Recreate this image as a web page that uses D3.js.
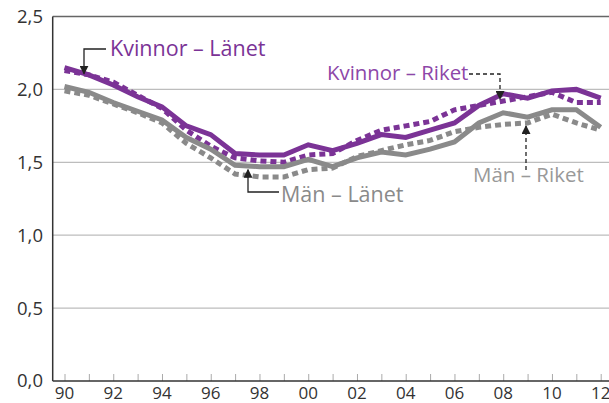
<!DOCTYPE html>
<html>
<head>
<meta charset="utf-8">
<script src="https://cdn.jsdelivr.net/npm/d3@7"></script>
<style>
html,body{margin:0;padding:0;background:#fff;}
svg{display:block;}
text{font-family:"Open Sans","Noto Sans",sans-serif;}
</style>
</head>
<body>
<svg id="chart" width="609" height="403"></svg>
<script>
const years = d3.range(1990, 2013);
const tickLabels = ["90","92","94","96","98","00","02","04","06","08","10","12"];
const yTicks = [0, 0.5, 1.0, 1.5, 2.0, 2.5];

const kvinnorLanet = [2.15,2.10,2.03,1.95,1.88,1.75,1.69,1.56,1.55,1.55,1.62,1.58,1.63,1.69,1.67,1.72,1.77,1.89,1.97,1.94,1.99,2.00,1.94];
const kvinnorRiket = [2.13,2.10,2.05,1.96,1.87,1.72,1.61,1.53,1.51,1.50,1.55,1.56,1.65,1.72,1.75,1.78,1.86,1.89,1.92,1.95,1.98,1.91,1.91];
const manLanet     = [2.02,1.98,1.91,1.85,1.79,1.67,1.59,1.48,1.47,1.47,1.52,1.47,1.53,1.57,1.55,1.59,1.64,1.77,1.84,1.81,1.86,1.86,1.74];
const manRiket     = [1.99,1.96,1.90,1.84,1.77,1.63,1.53,1.42,1.40,1.40,1.45,1.46,1.54,1.58,1.62,1.65,1.71,1.74,1.76,1.77,1.83,1.77,1.72];

const purple = "#7b3396";
const gray = "#8a8a8a";

const svg = d3.select("#chart");
const pLeft = 52.7, pRight = 609, pTop = 16.5, pBottom = 381;

const x = d3.scaleLinear().domain([1990, 2012]).range([64.5, 600.7]);
const y = d3.scaleLinear().domain([0, 2.5]).range([pBottom, pTop]);

// gridlines
svg.append("g").selectAll("line").data([0.5, 1.0, 1.5, 2.0]).join("line")
  .attr("x1", pLeft).attr("x2", pRight)
  .attr("y1", d => y(d)).attr("y2", d => y(d))
  .attr("stroke", "#bdbdbd").attr("stroke-width", 1.2);
// top frame
svg.append("line").attr("x1", pLeft).attr("x2", pRight).attr("y1", y(2.5)).attr("y2", y(2.5))
  .attr("stroke", "#666").attr("stroke-width", 1.3);

// y axis labels
svg.append("g").selectAll("text").data(yTicks).join("text")
  .attr("x", 43).attr("y", d => y(d)).attr("dy", "0.35em")
  .attr("text-anchor", "end").attr("font-size", 18.5).attr("fill", "#333")
  .text(d => d3.format(".1f")(d).replace(".", ","));

// x axis ticks (every year, inward)
const xAxis = d3.axisBottom(x).tickValues(years).tickSize(-7).tickFormat("");
const gx = svg.append("g").attr("transform", `translate(0,${pBottom})`).call(xAxis);
gx.select(".domain").remove();
gx.selectAll(".tick line").attr("stroke", "#aaa").attr("stroke-width", 1);

// x labels
svg.append("g").selectAll("text").data(tickLabels).join("text")
  .attr("x", (d, i) => x(1990 + 2 * i)).attr("y", 398.5)
  .attr("text-anchor", "middle").attr("font-size", 17).attr("fill", "#333")
  .text(d => d);

// axes lines
svg.append("line").attr("x1", pLeft).attr("x2", pRight).attr("y1", pBottom).attr("y2", pBottom)
  .attr("stroke", "#333").attr("stroke-width", 1.5);
svg.append("line").attr("x1", pLeft).attr("x2", pLeft).attr("y1", pTop).attr("y2", pBottom)
  .attr("stroke", "#333").attr("stroke-width", 1.5);

const line = d3.line().x((d, i) => x(years[i])).y(d => y(d));
const series = [
  {v: manRiket, c: gray, dash: "6,4"},
  {v: kvinnorRiket, c: purple, dash: "6,4"},
  {v: manLanet, c: gray, dash: null},
  {v: kvinnorLanet, c: purple, dash: null}
];
svg.append("g").selectAll("path").data(series).join("path")
  .attr("d", d => line(d.v))
  .attr("fill", "none").attr("stroke", d => d.c)
  .attr("stroke-width", 5)
  .attr("stroke-linejoin", "miter")
  .attr("stroke-dasharray", d => d.dash);

// arrow markers
const defs = svg.append("defs");
defs.append("marker").attr("id", "arr").attr("viewBox", "0 0 10 10")
  .attr("refX", 9).attr("refY", 5).attr("markerWidth", 9).attr("markerHeight", 9)
  .attr("markerUnits", "userSpaceOnUse").attr("orient", "auto")
  .append("path").attr("d", "M0,0 L10,5 L0,10 Z").attr("fill", "#222");

function arrow(points, dashed) {
  svg.append("path").attr("d", d3.line()(points))
    .attr("fill", "none").attr("stroke", "#222").attr("stroke-width", 1.3)
    .attr("stroke-dasharray", dashed ? "4,3" : null)
    .attr("marker-end", "url(#arr)");
}
// Kvinnor – Länet
arrow([[106, 49], [84, 49], [84, y(kvinnorLanet[1]) - 1]], false);
svg.append("text").attr("x", 110).attr("y", 56).attr("font-size", 21.5).attr("font-weight", 500)
  .attr("fill", purple).text("Kvinnor – Länet");
// Män – Länet
arrow([[279, 192], [248, 192], [248, y(manLanet[8]) + 3]], false);
svg.append("text").attr("x", 281).attr("y", 202).attr("font-size", 21.5).attr("font-weight", 500)
  .attr("fill", gray).text("Män – Länet");
// Kvinnor – Riket
arrow([[469, 74], [500, 74], [500, y(kvinnorRiket[18]) - 2]], true);
svg.append("text").attr("x", 327).attr("y", 80).attr("font-size", 20.4)
  .attr("fill", "#8d47a8").text("Kvinnor – Riket");
// Män – Riket
arrow([[526, 170], [526, y(manRiket[19]) + 3]], true);
svg.append("text").attr("x", 473).attr("y", 182).attr("font-size", 20.5)
  .attr("fill", "#999").text("Män – Riket");
</script>
</body>
</html>
